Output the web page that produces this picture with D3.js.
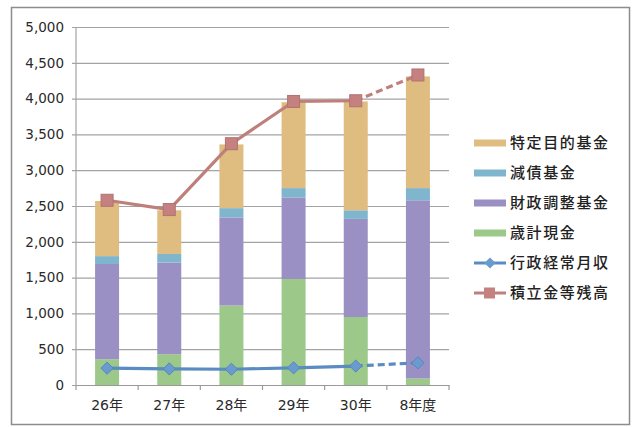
<!DOCTYPE html>
<html>
<head>
<meta charset="utf-8">
<script src="https://cdn.jsdelivr.net/npm/d3@7"></script>
<style>
  html, body { margin: 0; padding: 0; background: #fff; }
  svg { display: block; }
</style>
</head>
<body>
<svg id="chart" width="635" height="427"></svg>
<script>
// 年度
const categories = ["26年", "27年", "28年", "29年", "30年", "8年度"];
// 積立金の内訳（積み上げ棒、下から順）
const saikeiGenkin   = [360, 430, 1110, 1480, 950, 90];     // 歳計現金
const zaiseiChousei  = [1330, 1280, 1230, 1140, 1370, 2490]; // 財政調整基金
const gensaiKikin    = [110, 120, 130, 130, 120, 170];      // 減債基金
const tokuteiMokuteki = [770, 610, 890, 1200, 1520, 1560];  // 特定目的基金
// 折れ線
const gyouseiGetsushu = [235, 225, 220, 240, 265, 310];     // 行政経常月収
const tsumitateZandaka = [2580, 2450, 3370, 3960, 3970, 4330]; // 積立金等残高
// 目盛
const yTicks = [0, 500, 1000, 1500, 2000, 2500, 3000, 3500, 4000, 4500, 5000];

const seriesNames = ["歳計現金", "財政調整基金", "減債基金", "特定目的基金"];
const seriesValues = [saikeiGenkin, zaiseiChousei, gensaiKikin, tokuteiMokuteki];
const seriesColors = ["#9cc98a", "#9a90c4", "#7fb5cd", "#dfbd80"];

const numFont = "'DejaVu Sans', 'Noto Sans CJK JP', sans-serif";
const jpFont = "'Noto Sans CJK JP', sans-serif";

const svg = d3.select("#chart");

// 外枠
svg.append("rect")
  .attr("x", 11.5).attr("y", 7.5).attr("width", 618).attr("height", 417)
  .attr("fill", "#fff").attr("stroke", "#8c8c8c").attr("stroke-width", 1.5);

const plot = { left: 76, right: 449, top: 27, bottom: 385 };

const x = d3.scaleBand().domain(categories).range([plot.left, plot.right]).paddingInner(0).paddingOuter(0);
const y = d3.scaleLinear().domain([0, 5000]).range([plot.bottom, plot.top]);

// 目盛線
const yAxis = d3.axisLeft(y).tickValues(yTicks).tickFormat(d3.format(",")).tickSize(-(plot.right - plot.left)).tickPadding(12);
const gy = svg.append("g").attr("transform", `translate(${plot.left},0)`).call(yAxis);
gy.select(".domain").remove();
gy.selectAll(".tick line").attr("stroke", "#a3a3a3").attr("stroke-width", 1.2).attr("x1", -4);
gy.selectAll(".tick text").attr("font-family", numFont).attr("font-size", 13.5).attr("fill", "#2a2a2a");

// 縦軸線
svg.append("line").attr("x1", plot.left).attr("x2", plot.left).attr("y1", plot.top).attr("y2", plot.bottom)
  .attr("stroke", "#a3a3a3").attr("stroke-width", 1.2);

// 横軸
const xAxis = d3.axisBottom(x).tickSize(0).tickPadding(15);
const gx = svg.append("g").attr("transform", `translate(0,${plot.bottom})`).call(xAxis);
gx.select(".domain").attr("stroke", "#9a9a9a").attr("stroke-width", 1.2);
gx.selectAll(".tick text").attr("font-family", numFont).attr("font-size", 14).attr("fill", "#2a2a2a");
// 区切り目盛
const bounds = categories.map(c => x(c)).concat([plot.right]);
svg.append("g").selectAll("line").data(bounds).join("line")
  .attr("x1", d => d).attr("x2", d => d).attr("y1", plot.bottom).attr("y2", plot.bottom + 5)
  .attr("stroke", "#9a9a9a").attr("stroke-width", 1.2);

// 積み上げ棒
const rows = categories.map((c, i) => {
  const r = { cat: c };
  seriesNames.forEach((n, k) => r[n] = seriesValues[k][i]);
  return r;
});
const stacked = d3.stack().keys(seriesNames)(rows);
const barW = 24;
svg.append("g").selectAll("g").data(stacked).join("g")
  .attr("fill", (d, i) => seriesColors[i])
  .selectAll("rect").data(d => d).join("rect")
  .attr("x", d => x(d.data.cat) + x.bandwidth() / 2 - barW / 2)
  .attr("width", barW)
  .attr("y", d => y(d[1]))
  .attr("height", d => y(d[0]) - y(d[1]));

// 折れ線（最終年度は破線）
const cx = c => x(c) + x.bandwidth() / 2;
function drawLine(values, color, width) {
  const pts = categories.map((c, i) => [cx(c), y(values[i])]);
  const line = d3.line();
  svg.append("path").attr("d", line(pts.slice(0, 5))).attr("fill", "none")
    .attr("stroke", color).attr("stroke-width", width).attr("stroke-linejoin", "round");
  svg.append("path").attr("d", line(pts.slice(4))).attr("fill", "none")
    .attr("stroke", color).attr("stroke-width", width).attr("stroke-dasharray", "7,4");
  return pts;
}

const bluePts = drawLine(gyouseiGetsushu, "#5a8cc2", 3.2);
svg.append("g").selectAll("path").data(bluePts).join("path")
  .attr("d", d3.symbol().type(d3.symbolDiamond2).size(95))
  .attr("transform", d => `translate(${d[0]},${d[1]})`)
  .attr("fill", "#6a9bcf").attr("stroke", "#5686bd").attr("stroke-width", 1);

const pinkPts = drawLine(tsumitateZandaka, "#bf7f7a", 3.2);
svg.append("g").selectAll("rect").data(pinkPts).join("rect")
  .attr("x", d => d[0] - 6).attr("y", d => d[1] - 6).attr("width", 12).attr("height", 12)
  .attr("fill", "#c4817f").attr("stroke", "#b07370").attr("stroke-width", 1);

// 凡例
const legendItems = [
  { name: "特定目的基金", type: "box", color: seriesColors[3] },
  { name: "減債基金", type: "box", color: seriesColors[2] },
  { name: "財政調整基金", type: "box", color: seriesColors[1] },
  { name: "歳計現金", type: "box", color: seriesColors[0] },
  { name: "行政経常月収", type: "diamond", color: "#5a8cc2" },
  { name: "積立金等残高", type: "square", color: "#bf7f7a" }
];
const lg = svg.append("g").attr("transform", "translate(474,143)");
const item = lg.selectAll("g").data(legendItems).join("g")
  .attr("transform", (d, i) => `translate(0,${i * 30})`);
item.filter(d => d.type === "box").append("rect")
  .attr("x", 0).attr("y", -3.5).attr("width", 32).attr("height", 7).attr("fill", d => d.color);
item.filter(d => d.type !== "box").append("line")
  .attr("x1", 0).attr("x2", 32).attr("y1", 0).attr("y2", 0)
  .attr("stroke", d => d.color).attr("stroke-width", 3);
item.filter(d => d.type === "diamond").append("path")
  .attr("d", d3.symbol().type(d3.symbolDiamond2).size(80))
  .attr("transform", "translate(16,0)").attr("fill", "#6a9bcf");
item.filter(d => d.type === "square").append("rect")
  .attr("x", 10).attr("y", -5.5).attr("width", 11).attr("height", 11).attr("fill", "#c4817f");
item.append("text")
  .attr("x", 36).attr("y", 0).attr("dy", "0.36em")
  .attr("font-family", jpFont).attr("font-size", 15).attr("font-weight", 500).attr("letter-spacing", 1.6)
  .attr("fill", "#222")
  .text(d => d.name);
</script>
</body>
</html>
